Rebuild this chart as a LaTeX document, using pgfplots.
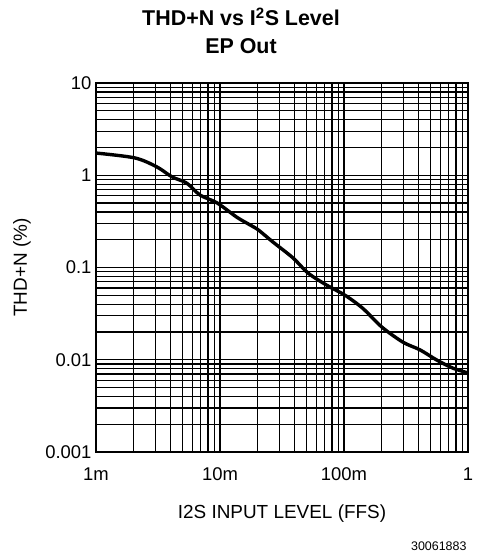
\documentclass[border=0pt]{standalone}
\usepackage{pgfplots}
\pgfplotsset{compat=1.18}
\usepackage{fontspec}
\setmainfont{Liberation Sans}
\setsansfont{Liberation Sans}
\begin{document}
\begin{tikzpicture}[x=1bp,y=1bp]
\useasboundingbox (0,0) rectangle (477,554);
\node[align=center,font=\fontsize{21.5}{28}\selectfont\bfseries] at (241,523) {THD+N vs I\textsuperscript{2}S Level\\EP Out};
\begin{axis}[
  at={(96bp,102bp)}, anchor=south west,
  scale only axis, width=372bp, height=369bp,
  xmode=log, ymode=log,
  xmin=0.001, xmax=1, ymin=0.001, ymax=10,
  xtick={0.001,0.01,0.1,1}, xticklabels={1m,10m,100m,1},
  ytick={0.001,0.01,0.1,1,10}, yticklabels={0.001,0.01,0.1,1,10},
  minor xtick={0.002,0.003,0.004,0.005,0.006,0.007,0.008,0.009,0.02,0.03,0.04,0.05,0.06,0.07,0.08,0.09,0.2,0.3,0.4,0.5,0.6,0.7,0.8,0.9},
  minor ytick={0.002,0.003,0.004,0.005,0.006,0.007,0.008,0.009,0.02,0.03,0.04,0.05,0.06,0.07,0.08,0.09,0.2,0.3,0.4,0.5,0.6,0.7,0.8,0.9,2,3,4,5,6,7,8,9},
  grid=both,
  major grid style={black, line width=1.2bp},
  minor grid style={black, line width=1.2bp},
  major tick length=0pt, minor tick length=0pt,
  axis line style={black, line width=2bp},
  tick label style={font=\fontsize{18.5}{20}\selectfont},
  xticklabel style={yshift=-12bp},
  yticklabel style={xshift=-1bp},
  xlabel={I2S INPUT LEVEL (FFS)},
  ylabel={THD+N (\%)},
  label style={font=\fontsize{19}{21}\selectfont},
  xlabel style={at={(rel axis cs:0.5,0)}, anchor=center, yshift=-62bp},
  ylabel style={at={(rel axis cs:0,0.5)}, anchor=center, yshift=74bp},
  /pgf/number format/assume math mode=true,
]
\addplot[black, line width=3.4bp, smooth] coordinates {
(0.001,1.74) (0.00206,1.54) (0.0031,1.23) (0.0041,0.96) (0.0054,0.82) (0.0069,0.61)
(0.0095,0.50) (0.0137,0.35) (0.0175,0.289) (0.0204,0.255) (0.0267,0.189) (0.0388,0.127)
(0.0513,0.087) (0.0730,0.064) (0.102,0.050) (0.142,0.036) (0.202,0.0226) (0.299,0.0155)
(0.410,0.0128) (0.562,0.0099) (0.757,0.0081) (1.0,0.0072)
};
\end{axis}
\node[anchor=east,font=\fontsize{12.5}{14}\selectfont] at (470,8) {30061883};
\end{tikzpicture}
\end{document}
